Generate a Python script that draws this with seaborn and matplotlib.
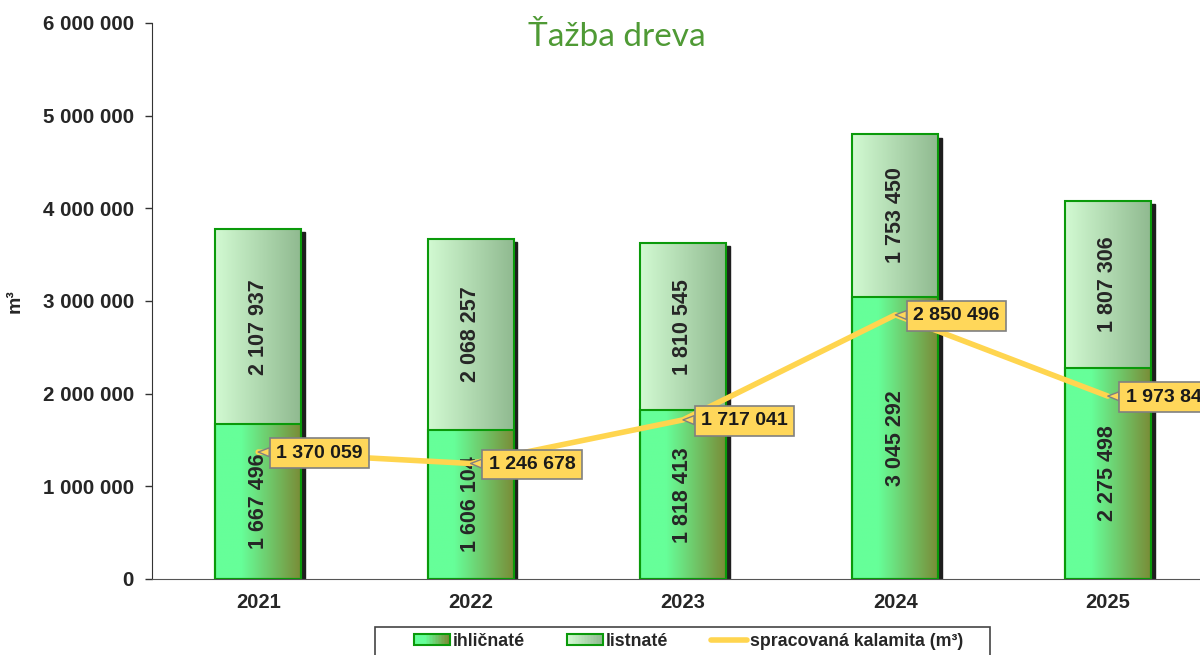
import numpy as np
import pandas as pd
import matplotlib
matplotlib.use('Agg')
import matplotlib.pyplot as plt
from matplotlib.patches import Patch, Rectangle
from matplotlib.lines import Line2D
from matplotlib.colors import to_rgb
from matplotlib.legend_handler import HandlerBase
import seaborn as sns

years = ['2021', '2022', '2023', '2024', '2025']
ihlicnate = [1667496, 1606104, 1818413, 3045292, 2275498]
listnate = [2107937, 2068257, 1810545, 1753450, 1807306]
kalamita = [1370059, 1246678, 1717041, 2850496, 1973844]

df = pd.DataFrame({'rok': years, 'ihl': ihlicnate, 'list': listnate, 'kal': kalamita})
df['spolu'] = df['ihl'] + df['list']

LOW_COLS = ('#66FF99', '#7A8A35', 0.3)
TOP_COLS = ('#D2FAD2', '#8FB98F', 0.0)
EDGE = '#0A9A0A'


def fmt(v):
    return f'{int(v):,}'.replace(',', ' ')


def gradient(c_left, c_right, flat=0.0, n=256):
    t = np.linspace(0, 1, n)
    t = np.clip((t - flat) / (1 - flat), 0, 1)
    a, b = np.array(to_rgb(c_left)), np.array(to_rgb(c_right))
    return a[None, :] * (1 - t[:, None]) + b[None, :] * t[:, None]


class GradHandler(HandlerBase):
    # legend swatch with a left-to-right gradient
    def __init__(self, cols):
        super().__init__()
        self.cols = cols

    def create_artists(self, legend, orig_handle, xdescent, ydescent, width, height,
                       fontsize, trans):
        n = 24
        cs = gradient(*self.cols, n=n)
        arts = []
        for k in range(n):
            arts.append(Rectangle((-xdescent + width * k / n, -ydescent), width / n + 0.3,
                                  height, fc=cs[k], ec='none', transform=trans))
        arts.append(Rectangle((-xdescent, -ydescent), width, height, fc='none',
                              ec=EDGE, lw=1.5, transform=trans))
        return arts


sns.set_style('white')
plt.rcParams['font.family'] = ['Liberation Sans', 'DejaVu Sans']

fig = plt.figure(figsize=(12, 6.55), dpi=100)
ax = fig.add_axes([152 / 1200, 1 - 579 / 655, 1062 / 1200, 556 / 655])

bw = 0.405
sns.barplot(data=df, x='rok', y='spolu', color='#B8E8B8', width=bw,
            edgecolor=EDGE, linewidth=1.5, ax=ax, zorder=3)
top_bars = list(ax.patches)
sns.barplot(data=df, x='rok', y='ihl', color='#6CE08A', width=bw,
            edgecolor=EDGE, linewidth=1.5, ax=ax, zorder=3)
low_bars = list(ax.patches)[len(top_bars):]

# shadows
for p in top_bars:
    ax.add_patch(Rectangle((p.get_x() + p.get_width(), 0), 0.018,
                           p.get_height() - 35000, color='#1E1E1E', zorder=2))

# gradients
for bars, cols, z in ((top_bars, TOP_COLS, 2.4), (low_bars, LOW_COLS, 2.6)):
    g = gradient(*cols)[None, :, :]
    for p in bars:
        x0, y0 = p.get_x(), p.get_y()
        im = ax.imshow(g, extent=(x0, x0 + p.get_width(), y0, y0 + p.get_height()),
                       aspect='auto', zorder=z, interpolation='bilinear')
        im.set_clip_path(p)
        p.set_facecolor('none')
        p.set_zorder(3)

# segment labels
for i, row in df.iterrows():
    ax.text(i, row['ihl'] / 2, fmt(row['ihl']), rotation=90, ha='center', va='center',
            fontsize=15.5, fontweight='bold', color='#262626', zorder=5)
    ax.text(i, row['ihl'] + row['list'] / 2, fmt(row['list']), rotation=90, ha='center',
            va='center', fontsize=15.5, fontweight='bold', color='#262626', zorder=5)

# kalamita line
xs = np.arange(len(years))
sns.lineplot(x=xs, y=df['kal'], color='#FFD54F', linewidth=4, ax=ax, zorder=6,
             legend=False)
for i, v in enumerate(kalamita):
    ax.annotate(fmt(v), xy=(i, v), xytext=(18, -1), textcoords='offset pixels',
                ha='left', va='center', fontsize=14, fontweight='bold', color='#1A1A1A',
                bbox=dict(boxstyle='square,pad=0.33', fc='#FFD75A', ec='#808080', lw=1.2),
                arrowprops=dict(arrowstyle='wedge,tail_width=0.45,shrink_factor=0.5',
                                fc='#FFD75A', ec='#808080', lw=1, shrinkA=0, shrinkB=0),
                zorder=7, annotation_clip=False)

ax.set_xlim(-0.5, len(years) - 0.5)
ax.set_ylim(0, 6000000)
ax.set_yticks(np.arange(0, 6000001, 1000000))
ax.set_yticklabels([fmt(v) for v in ax.get_yticks()], fontsize=14.8, fontweight='bold')
ax.set_xticks(xs)
ax.set_xticklabels(years, fontsize=14.5, fontweight='bold')
ax.set_xticks(np.arange(0.5, len(years) - 0.5, 1), minor=True)
ax.tick_params(axis='x', which='major', length=0, pad=10)
ax.tick_params(axis='x', which='minor', length=6, color='#555555', width=1, direction='out')
ax.tick_params(axis='y', length=5, width=1, color='#333333', direction='out', pad=8,
               left=True)
ax.set_xlabel('')
ax.set_ylabel('m³', fontsize=14, fontweight='bold', labelpad=14)
for s in ('top', 'right'):
    ax.spines[s].set_visible(False)
ax.spines['left'].set_color('#333333')
ax.spines['bottom'].set_color('#555555')

fig.text(617 / 1200, 1 - 37 / 655, 'Ťažba dreva', ha='center', va='center',
         fontsize=24, color='#4F9A35', family=['Lato', 'DejaVu Sans'])

# legend frame drawn separately, legend itself without frame
fig.patches.append(Rectangle((375 / 1200, -0.05), 615 / 1200, 0.05 + 28 / 655,
                             transform=fig.transFigure, fc='white', ec='#444444',
                             lw=1.2, zorder=0))
h_low = Patch(label='ihličnaté')
h_top = Patch(label='listnaté')
h_kal = Line2D([], [], color='#FFD54F', lw=4, label='spracovaná kalamita (m³)')
leg = fig.legend(handles=[h_low, h_top, h_kal], loc='upper left',
                 bbox_to_anchor=(407 / 1200, 1 - 626 / 655),
                 handler_map={h_low: GradHandler(LOW_COLS), h_top: GradHandler(TOP_COLS)},
                 ncol=3, frameon=False, borderaxespad=0,
                 prop={'weight': 'bold', 'size': 12.8}, handlelength=2.0, handleheight=0.6,
                 handletextpad=0.17, columnspacing=2.4, borderpad=0.4)

fig.savefig('out.png', dpi=100)
